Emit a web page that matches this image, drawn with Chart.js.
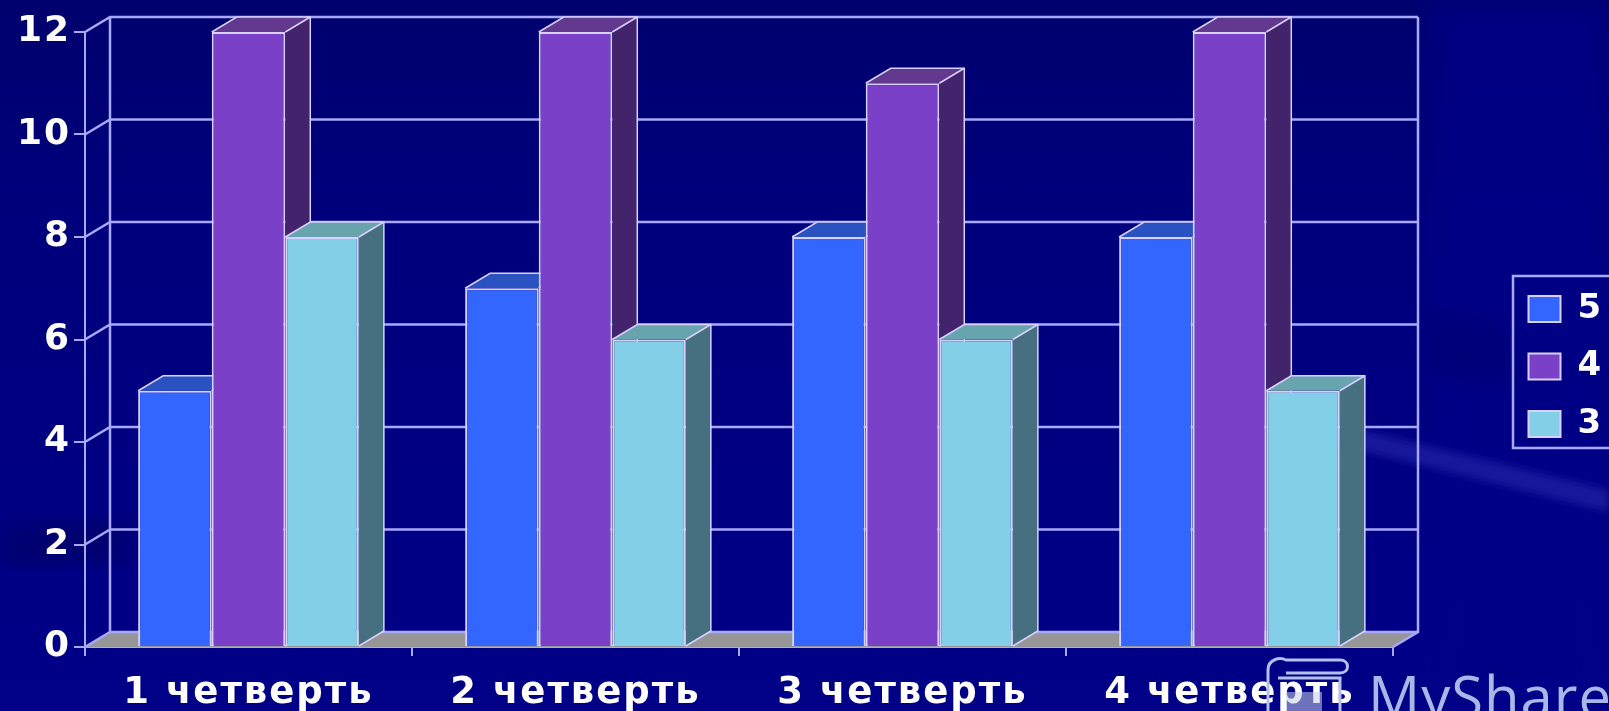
<!DOCTYPE html>
<html><head><meta charset="utf-8">
<style>
html,body{margin:0;padding:0;width:1609px;height:711px;overflow:hidden;background:#000084}
#bg{position:absolute;left:0;top:0}
#wrap{position:absolute;left:0;top:0;width:1609px;height:711px}
#mark{position:absolute;left:1368px;top:663px;font:58px "Open Sans",sans-serif;color:#a9b6e8;white-space:nowrap;line-height:66px;letter-spacing:1px}
#icon{position:absolute;left:1248px;top:656px}
</style>
<script src="https://cdn.jsdelivr.net/npm/chart.js@4"></script>
</head><body>
<svg id="bg" width="1609" height="711">
<defs>
<filter id="b"><feGaussianBlur stdDeviation="14"/></filter>
<filter id="b2"><feGaussianBlur stdDeviation="4"/></filter>
<linearGradient id="t" x1="0" y1="0" x2="0" y2="1"><stop offset="0" stop-color="#00006e"/><stop offset=".3" stop-color="#00007c"/><stop offset="1" stop-color="#000088"/></linearGradient>
</defs>
<rect width="1609" height="711" fill="url(#t)"/>
<polygon points="1430,0 1609,0 1609,711 1430,711" fill="#000088" opacity=".7" filter="url(#b)"/>
<polygon points="1320,420 1609,490 1609,512 1340,445" fill="#1c1ca0" opacity=".85" filter="url(#b2)"/>
<polygon points="0,527 130,520 130,560 0,565" fill="#000068" opacity=".8" filter="url(#b)"/>
<polygon points="1430,310 1510,330 1510,385 1430,370" fill="#00006e" opacity=".6" filter="url(#b)"/>
</svg>
<div id="wrap"><canvas id="c" width="1609" height="711"></canvas></div>
<svg id="icon" width="110" height="56" fill="none" stroke="#b6c0ee" stroke-width="3">
<path d="M20 14 C20 3 32 1 38 4 L92 4 C102 4 102 17 92 17 L38 17"/>
<path d="M20 14 L20 56 M30 22 L92 22 L92 56"/>
<rect x="38" y="36" width="36" height="20" fill="#c9cfe8" opacity=".55" stroke="none"/>
</svg>
<div id="mark">MyShare</div>
<script>
const categories = ["1 четверть","2 четверть","3 четверть","4 четверть"];
const series5 = [5,7,8,8];
const series4 = [12,12,11,12];
const series3 = [8,6,6,5];
const seriesNames = ["5","4","3"];
const yTicks = [0,2,4,6,8,10,12];

const LINE = "#a8a8ff";
const EDGE = "#d8d0ff";
const DX = 25, DY = -15;
const faces = [
  {front:"#3366ff", top:"#2a52c0", side:"#23449c"},
  {front:"#7a40c8", top:"#62398f", side:"#43246c"},
  {front:"#84cfe8", top:"#68a4ae", side:"#467080"}
];

const plugin3d = {
  id:"depth3d",
  beforeDraw(chart){ chart.ctx.letterSpacing = "2px"; },
  beforeDatasetsDraw(chart){
    const {ctx} = chart, x = chart.scales.x, y = chart.scales.y;
    const L = x.left, R = x.right, B = y.getPixelForValue(0);
    ctx.save();
    ctx.fillStyle = "#969696";
    ctx.beginPath();
    ctx.moveTo(L,B); ctx.lineTo(L+DX,B+DY); ctx.lineTo(R+DX,B+DY); ctx.lineTo(R,B); ctx.closePath(); ctx.fill();
    ctx.strokeStyle = LINE; ctx.lineWidth = 2.5;
    ctx.beginPath();
    yTicks.forEach(v=>{
      const py = y.getPixelForValue(v);
      ctx.moveTo(L,py); ctx.lineTo(L+DX,py+DY); ctx.lineTo(R+DX,py+DY);
    });
    const T = y.getPixelForValue(12);
    ctx.moveTo(L+DX,T+DY); ctx.lineTo(L+DX,B+DY);
    ctx.moveTo(R+DX,T+DY); ctx.lineTo(R+DX,B+DY); ctx.lineTo(R,B);
    ctx.stroke();
    chart.data.datasets.forEach((d,i)=>{
      chart.getDatasetMeta(i).data.forEach(bar=>{
        const l = bar.x-bar.width/2, r = bar.x+bar.width/2, t = bar.y, b = bar.base;
        ctx.fillStyle = faces[i].side;
        ctx.beginPath();
        ctx.moveTo(r,t); ctx.lineTo(r+DX,t+DY); ctx.lineTo(r+DX,b+DY); ctx.lineTo(r,b); ctx.closePath(); ctx.fill();
        ctx.fillStyle = faces[i].top;
        ctx.beginPath();
        ctx.moveTo(l,t); ctx.lineTo(l+DX,t+DY); ctx.lineTo(r+DX,t+DY); ctx.lineTo(r,t); ctx.closePath(); ctx.fill();
        ctx.strokeStyle = EDGE; ctx.lineWidth = 1.5;
        ctx.beginPath();
        ctx.moveTo(l,t); ctx.lineTo(l+DX,t+DY); ctx.lineTo(r+DX,t+DY); ctx.lineTo(r+DX,b+DY); ctx.lineTo(r,b);
        ctx.moveTo(r,t); ctx.lineTo(r+DX,t+DY);
        ctx.stroke();
      });
    });
    ctx.restore();
  },
  afterDraw(chart){
    const {ctx, legend} = chart;
    ctx.save();
    ctx.strokeStyle = LINE; ctx.lineWidth = 2.5;
    const hb = legend.legendHitBoxes;
    const top = hb[0].top-16, bot = hb[hb.length-1].top+hb[hb.length-1].height+7;
    ctx.strokeRect(legend.left+8, top, chart.width, bot-top);
    ctx.restore();
  }
};

new Chart(document.getElementById("c"),{
  type:"bar",
  data:{labels:categories,datasets:[series5,series4,series3].map((v,i)=>({
    label:seriesNames[i],data:v,backgroundColor:faces[i].front,borderColor:EDGE,borderWidth:2,
    categoryPercentage:0.675,barPercentage:1
  }))},
  plugins:[plugin3d],
  options:{
    responsive:false,animation:false,
    layout:{padding:{top:22,left:0,right:0,bottom:0}},
    plugins:{
      tooltip:{enabled:false},
      legend:{position:"right",align:"center",maxWidth:104,
        labels:{color:"#ffffff",boxWidth:32,boxHeight:26,padding:23.5,
          font:{family:"DejaVu Sans",size:34,weight:"bold"}}}
    },
    scales:{
      x:{
        grid:{display:true,drawOnChartArea:false,drawTicks:true,tickLength:9,color:LINE,lineWidth:2},
        border:{display:true,color:LINE,width:2},
        ticks:{color:"#ffffff",maxRotation:0,autoSkip:false,padding:15,font:{family:"DejaVu Sans",size:37,weight:"bold"}},
        afterFit(s){s.height=64;}
      },
      y:{
        min:0,max:12,
        grid:{display:true,drawOnChartArea:false,drawTicks:true,tickLength:11,color:LINE,lineWidth:2},
        border:{display:true,color:LINE,width:2},
        ticks:{color:"#ffffff",stepSize:2,padding:3,font:{family:"DejaVu Sans",size:36,weight:"bold"}},
        afterFit(s){s.width=85;}
      },
      gapTop:{
        position:"top",display:true,
        grid:{display:false},border:{display:false},ticks:{display:false},
        afterFit(s){s.height=10;}
      },
      gap:{
        position:"right",display:true,
        grid:{display:false},border:{display:false},ticks:{display:false},
        afterFit(s){s.width=112;}
      }
    }
  }
});
</script>
</body></html>
